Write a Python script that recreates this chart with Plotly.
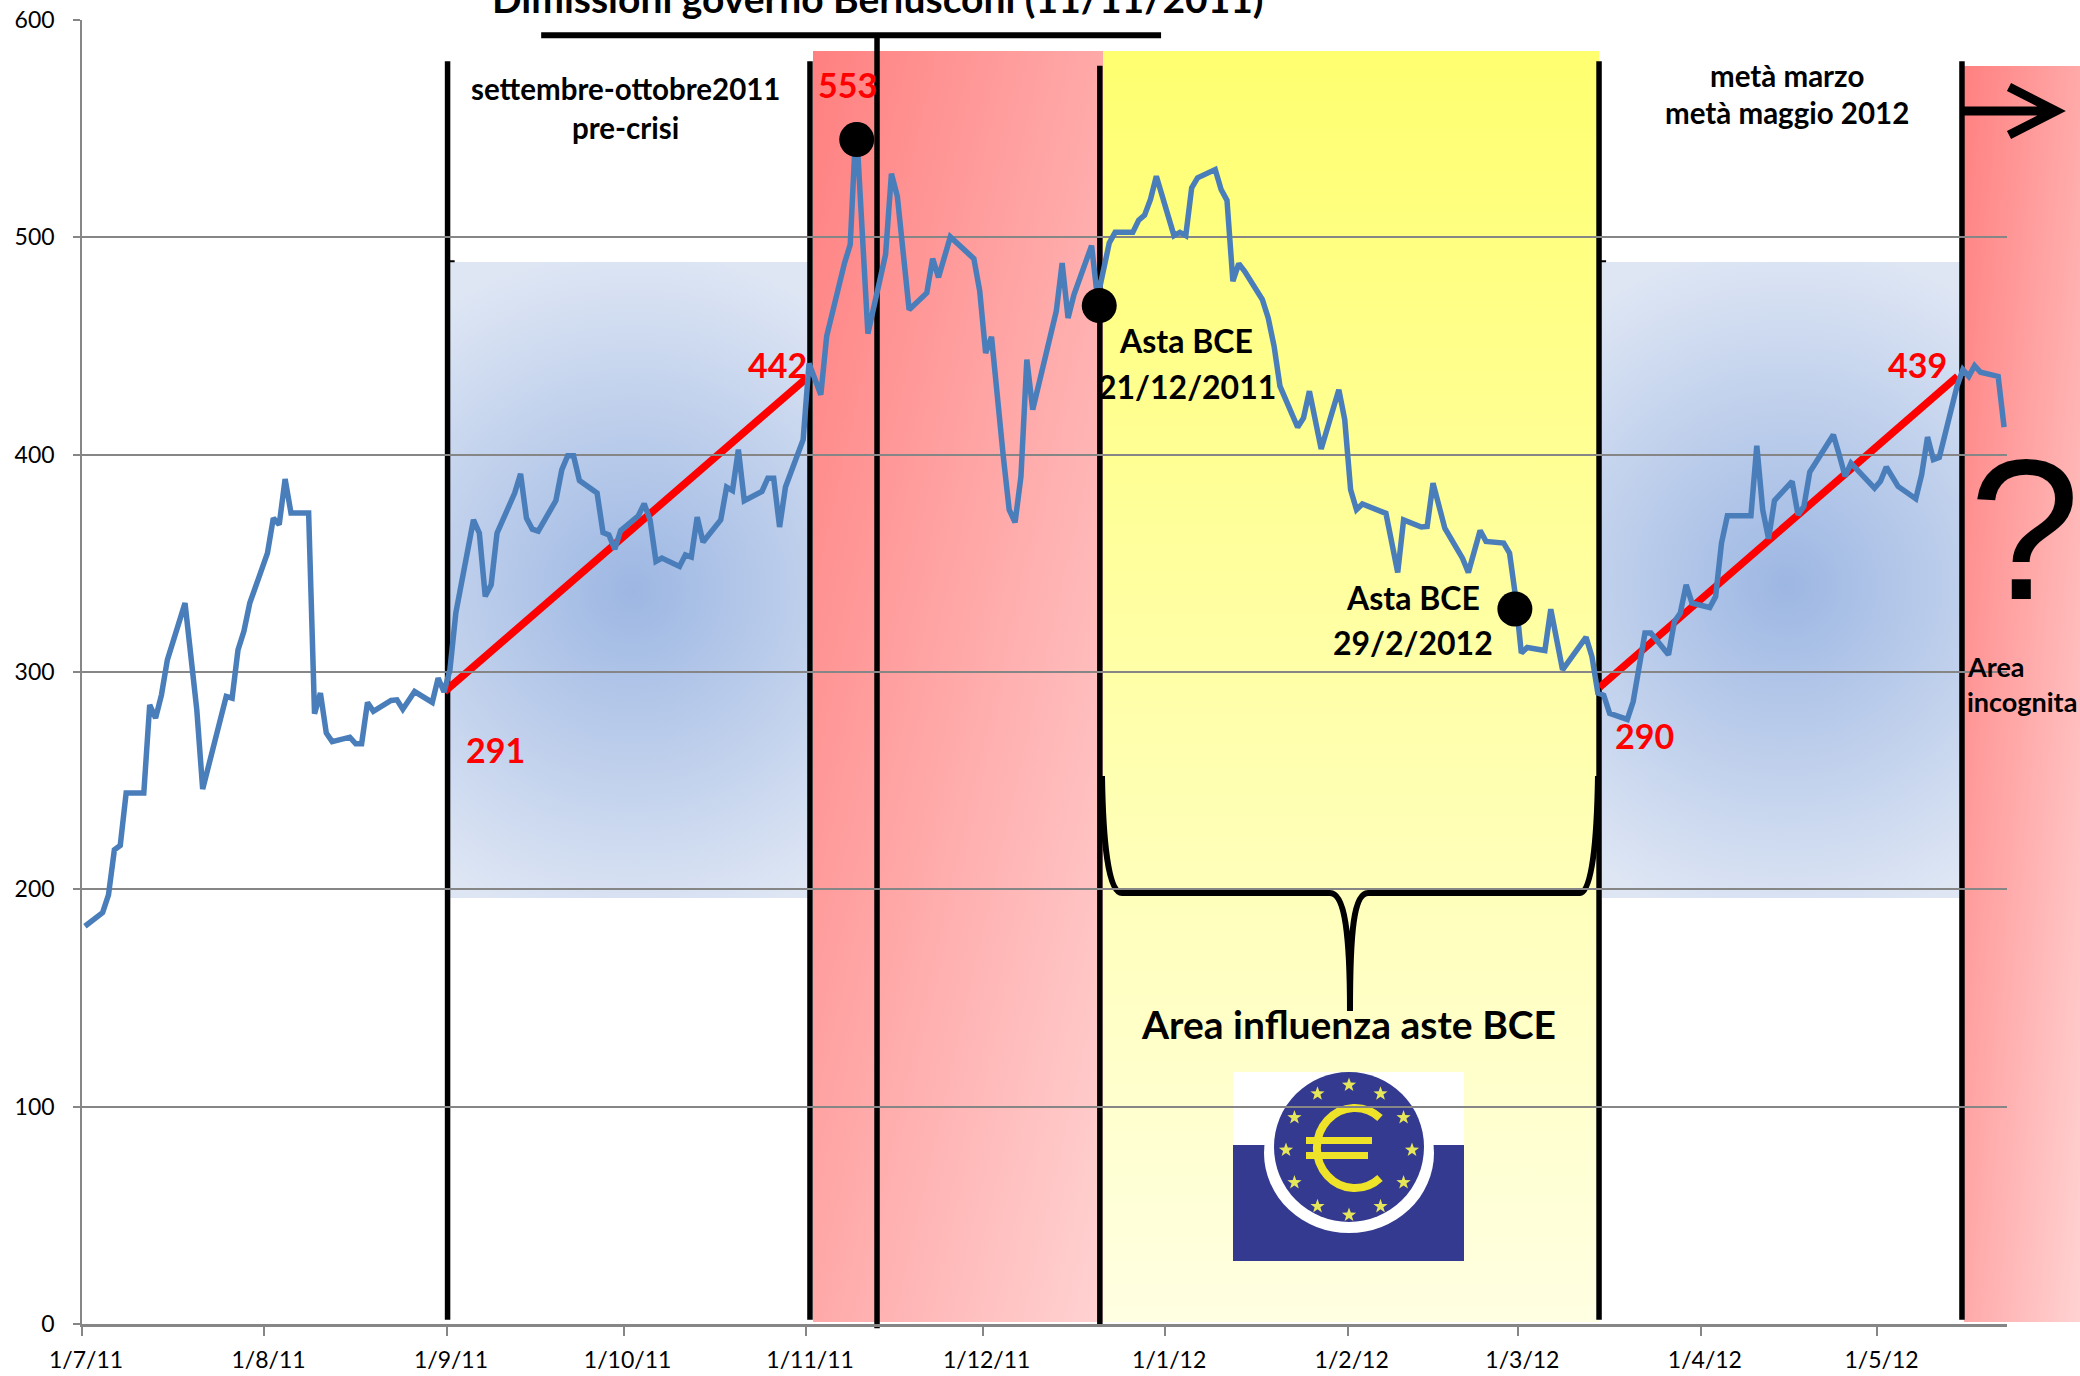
import base64
import math
import pandas as pd
import plotly.graph_objects as go

# ---------- data ----------
START = pd.Timestamp("2011-07-01")
obs_days = [0,3,4,5,6,7,10,11,12,13,14,17,18,19,20,24,25,26,27,28,31,32,33,34,35,38,39,40,41,42,
            45,46,47,48,49,52,53,54,56,59,60,61,62,63,66,67,68,69,70,73,74,75,76,77,80,81,82,83,84,
            87,88,89,90,91,94,95,96,97,98,101,102,103,104,105,108,109,110,111,112,115,116,117,118,119,
            122,123,125,126,129,130,131,132,133,136,137,138,140,143,144,145,147,151,152,153,154,156,157,
            158,159,160,161,165,166,167,168,171,172,174,175,178,179,180,181,182,185,186,187,188,189,192,
            193,194,195,196,197,200,201,202,203,206,207,208,209,210,213,214,215,216,217,221,223,224,227,
            228,229,231,234,235,237,238,241,242,243,244,245,248,249,251,255,256,257,258,259,262,263,264,
            265,266,269,270,271,272,273,276,277,278,279,283,284,285,286,287,290,291,292,293,294,297,298,
            299,300,304,305,306,308,311,312,313,314,315,318,319,320,321,322,325,326]
spread = [183,189.3,197.5,218.2,220.2,244.3,244.3,284.9,278.8,289.5,305.6,331.7,307.2,282.6,246.1,288.8,288,
          310.2,318.7,331.7,354.7,370.8,367.8,388.8,373.2,373.2,280.8,290.3,271.9,268,270,267,267,286,281.9,
          286.9,287.2,282.9,291,286,297.2,290.8,301,327.1,370,363.9,334.8,340.1,363.9,382.3,391.2,370.8,365.7,
          364.8,378.9,393,399.5,399.5,388.1,382.3,364.2,363.1,356.5,365.1,371.9,377.4,370,350.9,352.4,348.6,
          353.9,352.9,371.3,359.8,370,385.1,383.5,402.3,378.8,383.1,389.2,389.2,366.7,385.1,406.9,442,427.6,
          454.5,487.9,496.7,553,500.5,455.7,492,529.3,518.9,466.7,474.4,490.2,481.6,500.2,490.2,475.2,446.8,
          454.2,399.2,374.7,368.8,390,443.7,420.7,466,488.2,462.9,473.6,496.2,472,497.4,502.3,502.3,507.9,
          510.2,517.4,528.1,500.8,502.3,500.8,522.8,527.4,531.2,522,517,479.8,487.9,484.4,471.4,462.9,449.9,
          431.5,412.6,416.9,429.2,416.1,402.6,429.9,416.1,383.9,374.7,377.3,373,345.8,370,366.7,367,386.9,
          366.2,352.4,345.8,365.1,360.1,359.3,354.7,335,308.7,311.3,309.9,328.9,301,316,307,290.3,289.3,281,
          278.2,286.4,301,317.9,317.9,307.9,323.2,327.1,340.1,331.7,329.7,334.7,359.3,371.9,371.9,404.1,374.6,
          361.3,378.9,387.7,372.3,376.2,392,396.1,409.2,400,390,396.1,384.6,387.7,394.3,385.4,379.7,390.8,
          408.1,397.7,398.7,431.4,439.1,436,440.9,437.9,436,412.7]

trend_days = [[61.6, 123.0], [257.8, 318.6]]
trend_values = [[291, 435], [293, 436]]

auction_days = [131.6, 172.8, 243.4]
auction_values = [545, 468.6, 329]

divider_days = [62.1, 123.66, 135.05, 172.9, 257.7, 319.35]
divider_tops = [581, 581, 593, 579, 581, 581]
divider_bottoms = [2, 2, -2, 0, 2, 2]

x_tick_dates = ["2011-07-01","2011-08-01","2011-09-01","2011-10-01","2011-11-01","2011-12-01",
                "2012-01-01","2012-02-01","2012-03-01","2012-04-01","2012-05-01"]
x_tick_text = ["1/7/11","1/8/11","1/9/11","1/10/11","1/11/11","1/12/11","1/1/12","1/2/12","1/3/12","1/4/12","1/5/12"]
y_ticks = [0,100,200,300,400,500,600]

# ---------- helpers ----------
W, H = 2080, 1376
L, R, T, B = 82, 2007, 20, 1324
def when(d):
    return (START + pd.Timedelta(days=float(d))).isoformat()
def obs(d):
    return (START + pd.Timedelta(days=float(d), hours=12)).isoformat()
def px(x):
    return (x - L) / (R - L)
def py(y):
    return (B - y) / (B - T)

# ---------- backdrop: gradient panels and the ECB picture ----------
stars = ""
for i in range(12):
    a = math.radians(i * 30)
    cx, cy = 1349 + 63 * math.sin(a), 1150 - 65 * math.cos(a)
    pts = []
    for k in range(10):
        r = 7.5 if k % 2 == 0 else 3.0
        b = math.radians(k * 36)
        pts.append(f"{cx + r * math.sin(b):.1f},{cy - r * math.cos(b):.1f}")
    stars += f'<polygon points="{" ".join(pts)}" fill="#E6E65A"/>'

svg = f'''<svg xmlns="http://www.w3.org/2000/svg" width="{W}" height="{H}" viewBox="0 0 {W} {H}">
<defs>
<linearGradient id="red" x1="0" y1="0" x2="1" y2="1"><stop offset="0" stop-color="#FF8080"/><stop offset="1" stop-color="#FFD2D2"/></linearGradient>
<linearGradient id="yel" x1="0" y1="0" x2="0" y2="1"><stop offset="0" stop-color="#FFFF70"/><stop offset="1" stop-color="#FFFFE2"/></linearGradient>
<radialGradient id="b1" gradientUnits="userSpaceOnUse" cx="633" cy="590" r="340"><stop offset="0" stop-color="#9DB7E3"/><stop offset="1" stop-color="#DEE6F4"/></radialGradient>
<radialGradient id="b2" gradientUnits="userSpaceOnUse" cx="1787" cy="585" r="340"><stop offset="0" stop-color="#9DB7E3"/><stop offset="1" stop-color="#DEE6F4"/></radialGradient>
</defs>
<rect x="450" y="262" width="358" height="636" fill="url(#b1)"/>
<rect x="1602" y="262" width="358" height="636" fill="url(#b2)"/>
<rect x="813" y="51" width="290" height="1271" fill="url(#red)"/>
<rect x="1103" y="51" width="496" height="1271" fill="url(#yel)"/>
<rect x="1964" y="66" width="116" height="1256" fill="url(#red)"/>
<rect x="1233" y="1072" width="231" height="189" fill="#FFFFFF"/>
<rect x="1233" y="1145" width="231" height="116" fill="#333A8F"/>
<ellipse cx="1349" cy="1153" rx="85" ry="80" fill="#FFFFFF"/>
<rect x="1233" y="1072" width="231" height="73" fill="#FFFFFF"/>
<ellipse cx="1349" cy="1147" rx="75" ry="75" fill="#333A8F"/>
{stars}
<path d="M1380 1118 A38 40 0 1 0 1380 1178" fill="none" stroke="#EFE32A" stroke-width="8"/>
<rect x="1306" y="1137" width="66" height="7" fill="#EFE32A"/>
<rect x="1306" y="1152" width="62" height="7" fill="#EFE32A"/>
</svg>'''
backdrop = "data:image/svg+xml;base64," + base64.b64encode(svg.encode()).decode()

# ---------- figure ----------
fig = go.Figure()
fig.add_trace(go.Scatter(x=[obs(d) for d in obs_days], y=spread, mode="lines",
                         line=dict(color="#4A7EBB", width=5.5), showlegend=False, hoverinfo="skip"))
fig.add_trace(go.Scatter(x=[when(d) for d in auction_days], y=auction_values, mode="markers",
                         marker=dict(color="black", size=35), showlegend=False, hoverinfo="skip", cliponaxis=False))

shapes = []
for d, t, b in zip(divider_days, divider_tops, divider_bottoms):
    shapes.append(dict(type="line", layer="below", xref="x", yref="paper", x0=when(d), x1=when(d),
                       y0=b / 600, y1=t / 600, line=dict(color="black", width=5.5)))
shapes.append(dict(type="line", layer="below", xref="x", yref="y", x0=when(78), x1=when(183.3),
                   y0=593, y1=593, line=dict(color="black", width=6)))
for d in (62.1, 257.7):
    shapes.append(dict(type="line", layer="below", xref="x", yref="y", x0=when(d), x1=when(d + 1.2),
                       y0=489, y1=489, line=dict(color="black", width=2)))
for ds, vs in zip(trend_days, trend_values):
    shapes.append(dict(type="line", layer="below", xref="x", yref="y", x0=when(ds[0]), x1=when(ds[1]),
                       y0=vs[0], y1=vs[1], line=dict(color="#FF0000", width=7.5)))

def P(x, y):
    return f"{px(x):.5f} {py(y):.5f}"
brace = ("M " + P(1102, 776) + " C " + P(1103, 840) + " " + P(1108, 893) + " " + P(1122, 893) +
         " L " + P(1330, 893) + " C " + P(1344, 893) + " " + P(1350, 930) + " " + P(1350, 1011) +
         " C " + P(1350, 930) + " " + P(1354, 893) + " " + P(1368, 893) +
         " L " + P(1580, 893) + " C " + P(1592, 893) + " " + P(1597, 840) + " " + P(1598, 776))
shapes.append(dict(type="path", layer="below", xref="paper", yref="paper", path=brace,
                   line=dict(color="black", width=6)))
arrow = ("M " + P(1964, 111) + " L " + P(2054, 111) + " M " + P(2009, 87) + " L " + P(2056, 111) + " L " + P(2009, 135))
shapes.append(dict(type="path", layer="above", xref="paper", yref="paper", path=arrow,
                   line=dict(color="black", width=9)))

labels = [
    ("Dimissioni governo Berlusconi (11/11/2011)", 878, -2, 39, "black", "bold", "Lato"),
    ("settembre-ottobre2011", 625, 89, 29.5, "black", "bold", "Lato"),
    ("pre-crisi", 625, 128, 29.5, "black", "bold", "Lato"),
    ("metà marzo", 1787, 75, 29.5, "black", "bold", "Lato"),
    ("metà maggio 2012", 1787, 113, 29.5, "black", "bold", "Lato"),
    ("553", 847, 85, 34, "#FF0000", "bold", "Lato"),
    ("442", 777, 365, 34, "#FF0000", "bold", "Lato"),
    ("439", 1917, 365, 34, "#FF0000", "bold", "Lato"),
    ("291", 495, 749, 34, "#FF0000", "bold", "Lato"),
    ("290", 1644, 735, 34, "#FF0000", "bold", "Lato"),
    ("Asta BCE", 1186, 341, 32, "black", "bold", "Lato"),
    ("21/12/2011", 1187, 386, 32, "black", "bold", "Lato"),
    ("Asta BCE", 1413, 597, 32, "black", "bold", "Lato"),
    ("29/2/2012", 1413, 642, 32, "black", "bold", "Lato"),
    ("Area influenza aste BCE", 1348, 1024, 39, "black", "bold", "Lato"),
    ("?", 2024, 529, 200, "black", "normal", "Liberation Sans"),
]
annotations = [dict(text=t, xref="paper", yref="paper", x=px(x), y=py(y), xanchor="center", yanchor="middle",
                    showarrow=False, font=dict(family=f, size=s, color=c, weight=w))
               for t, x, y, s, c, w, f in labels]
for t, y in (("Area", 666), ("incognita", 701)):
    annotations.append(dict(text=t, xref="paper", yref="paper", x=px(1965), y=py(y), xanchor="left", yanchor="middle",
                            showarrow=False, font=dict(family="Lato", size=27, color="black", weight="bold")))

fig.update_layout(
    width=W, height=H, autosize=False,
    margin=dict(l=L, r=W - R, t=T, b=H - B, pad=0, autoexpand=False),
    paper_bgcolor="white", plot_bgcolor="rgba(0,0,0,0)",
    font=dict(family="Lato", color="black"),
    showlegend=False,
    images=[dict(source=backdrop, xref="paper", yref="paper", x=px(0), y=py(0),
                 sizex=W / (R - L), sizey=H / (B - T), xanchor="left", yanchor="top",
                 sizing="stretch", layer="below")],
    shapes=shapes, annotations=annotations,
    xaxis=dict(type="date", range=["2011-07-01", "2012-05-23"], tickmode="array", automargin=False,
               tickvals=x_tick_dates, ticktext=x_tick_text, ticks="outside", ticklen=9, tickwidth=1.5,
               tickcolor="#868686", showline=True, linecolor="#868686", linewidth=2.5, showgrid=False,
               zeroline=False, tickfont=dict(family="Lato", size=23, color="black"), tickangle=0,
               ticklabelshift=4, ticklabelstandoff=5),
    yaxis=dict(range=[0, 600], tickmode="array", tickvals=y_ticks, ticks="outside", ticklen=7, tickwidth=1.5,
               automargin=False,
               tickcolor="#868686", showline=True, linecolor="#868686", linewidth=1.5, showgrid=True,
               gridcolor="#868686", gridwidth=1.5, zeroline=False,
               tickfont=dict(family="Lato", size=23, color="black"), ticklabelstandoff=14),
)

fig.write_html("out.html", config={"displayModeBar": False},
               post_script="document.body.style.margin='0';document.body.style.overflow='hidden';")
